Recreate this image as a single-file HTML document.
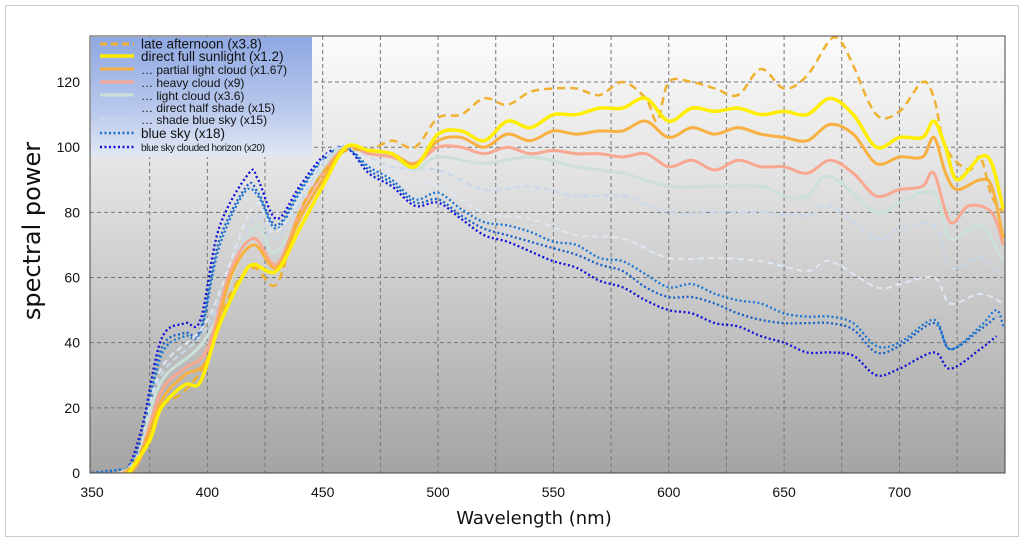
<!DOCTYPE html>
<html><head><meta charset="utf-8"><style>
html,body{margin:0;padding:0;background:#fff;}
svg{display:block;font-family:"Liberation Sans","DejaVu Sans",sans-serif;}
</style></head><body>
<svg id="s" width="1024" height="542" viewBox="0 0 1024 542" xmlns="http://www.w3.org/2000/svg">
<defs>
<linearGradient id="bg" x1="0" y1="0" x2="0" y2="1">
<stop offset="0" stop-color="#fbfbfb"/><stop offset="0.3" stop-color="#e4e4e4"/><stop offset="1" stop-color="#a4a4a4"/>
</linearGradient>
<linearGradient id="lg" x1="0" y1="0" x2="0" y2="1">
<stop offset="0" stop-color="#8fa8e2"/><stop offset="0.6" stop-color="#b8c8ec"/><stop offset="1" stop-color="#e2e8f4"/>
</linearGradient>
<clipPath id="cp"><rect x="90" y="36" width="915" height="437"/></clipPath>
</defs>
<rect x="5.5" y="5.5" width="1013" height="531" fill="#fff" stroke="#ccc"/>
<rect x="90" y="36" width="915" height="437" fill="url(#bg)"/>
<g id="grid" stroke="#777" stroke-width="1" stroke-dasharray="4,3" fill="none"></g>
<g id="series" clip-path="url(#cp)" fill="none" stroke-linejoin="round"></g>
<rect x="90" y="36" width="915" height="437" fill="none" stroke="#444"/>
<g id="ticks" font-size="14" fill="#111"></g>
<text x="534" y="524" font-size="18" text-anchor="middle" fill="#111" style="font-family:'DejaVu Sans',sans-serif">Wavelength (nm)</text>
<text transform="translate(40,231) rotate(-90)" font-size="24" text-anchor="middle" fill="#111" style="font-family:'DejaVu Sans',sans-serif">spectral power</text>
<rect x="91" y="37" width="221" height="120" fill="url(#lg)"/>
<g font-size="13" fill="#111">
<line x1="100" y1="44" x2="134" y2="44" stroke="#f0b030" stroke-width="3" stroke-dasharray="7,4"/><text x="141" y="48.5" font-size="13.5">late afternoon (x3.8)</text>
<line x1="100" y1="56" x2="134" y2="56" stroke="#ffee00" stroke-width="3.5"/><text x="141" y="61" font-size="13.5">direct full sunlight (x1.2)</text>
<line x1="100" y1="69" x2="134" y2="69" stroke="#f8b040" stroke-width="3"/><text x="141" y="74" font-size="12">… partial light cloud (x1.67)</text>
<line x1="100" y1="82" x2="134" y2="82" stroke="#f8a890" stroke-width="3"/><text x="141" y="87" font-size="12">… heavy cloud (x9)</text>
<line x1="100" y1="95" x2="134" y2="95" stroke="#cce0d8" stroke-width="3"/><text x="141" y="100" font-size="12">… light cloud (x3.6)</text>
<text x="141" y="112" font-size="12">…  direct half shade (x15)</text>
<line x1="100" y1="119" x2="134" y2="119" stroke="#c8d8ec" stroke-width="2" stroke-dasharray="5,3"/><text x="141" y="124" font-size="12">… shade blue sky (x15)</text>
<line x1="100" y1="133" x2="134" y2="133" stroke="#1870d0" stroke-width="2.5" stroke-dasharray="2,2.5"/><text x="141" y="138" font-size="13.5">blue sky (x18)</text>
<line x1="100" y1="147" x2="134" y2="147" stroke="#1010d8" stroke-width="2.5" stroke-dasharray="2,2.5"/><text x="141" y="151" font-size="10" letter-spacing="-0.4">blue sky clouded horizon (x20)</text>
</g>
</svg>
<script>
const NS="http://www.w3.org/2000/svg";
const X=n=>92+(n-350)*2.307, Y=v=>473-v*3.258;
const grid=document.getElementById('grid'), ticks=document.getElementById('ticks');
function el(p,t,a){const e=document.createElementNS(NS,t);for(const k in a)e.setAttribute(k,a[k]);p.appendChild(e);return e;}
for(let n=375;n<=740;n+=25){el(grid,'line',{x1:X(n),y1:36,x2:X(n),y2:473});}
for(let v=20;v<=120;v+=20){el(grid,'line',{x1:90,y1:Y(v),x2:1005,y2:Y(v)});}
for(let n=350;n<=700;n+=50){const t=el(ticks,'text',{x:X(n),y:497,'text-anchor':'middle'});t.textContent=n;}
for(let v=0;v<=120;v+=20){const t=el(ticks,'text',{x:80,y:Y(v)+5,'text-anchor':'end'});t.textContent=v;}
function P(s){const a=s.trim().split(/\s+/).map(p=>p.split(':').map(Number));return a.map(([n,v])=>[X(n),Y(v)]);}
function path(pts){let d='M'+pts[0][0]+','+pts[0][1];for(let i=0;i<pts.length-1;i++){const p0=pts[i-1]||pts[i],p1=pts[i],p2=pts[i+1],p3=pts[i+2]||p2;
d+=` C${p1[0]+(p2[0]-p0[0])/6},${p1[1]+(p2[1]-p0[1])/6} ${p2[0]-(p3[0]-p1[0])/6},${p2[1]-(p3[1]-p1[1])/6} ${p2[0]},${p2[1]}`;}return d;}
const S=[
["350:0 356:0.5 362:1 366:2 372:15 380:41 390:46 397:47 405:75 418:92 422:90 430:78 440:88 450:97 460:100 470:92 480:88 490:82 500:83 510:78 520:73 530:71 540:68 550:65 560:63 570:59 580:57 590:53 600:50 610:49 620:46 630:45 640:42 650:40 660:37 670:37 680:36 690:30 700:32 715:37 722:32 735:38 742:42","#1010d8",2.3,"2,2.5"],
["350:0 362:1 366:2 372:12 380:38 390:43 397:44 405:71 417:88 422:86 430:76 440:87 450:96 460:100 470:93 480:89 490:83 500:84 510:79 520:75 530:73 540:71 550:69 560:67 570:64 580:62 590:57 600:54 610:54 620:52 630:49 640:47 650:46 660:46 670:46 680:44 690:37 700:39 715:46 722:38 735:44 742:48","#1860c8",2.3,"2,2.5"],
["350:0 362:1 366:2 372:10 380:36 390:42 397:43 405:69 416:86 422:85 430:75 440:86 450:96 460:100 470:94 480:90 490:84 500:86 510:81 520:77 530:76 540:74 550:71 560:70 570:66 580:65 590:61 600:57 610:58 620:55 630:53 640:52 650:49 660:48 670:48 680:46 690:39 700:40 715:47 722:38 735:45 742:50 745:45","#1a78d4",2.3,"2,2.5"],
["362:0 370:6 380:32 400:47 420:82 430:74 450:96 460:100 480:92 500:88 520:80 540:78 560:73 580:72 600:66 620:66 640:65 660:62 670:65 690:57 700:58 715:60 722:52 735:55 745:52","#dde8f4",2,"6,4"],
["362:0 370:5 380:30 400:45 420:78 430:72 450:95 460:100 480:94 500:93 520:87 540:88 560:85 580:85 600:80 620:80 640:80 660:79 670:82 690:72 700:75 715:76 722:63 735:66 745:60","#c8d8ec",2,"6,4"],
["362:0 370:5 380:28 400:42 420:75 430:68 450:93 460:100 480:97 490:93 500:97 520:95 540:97 560:94 580:92 600:88 620:88 640:88 650:85 660:85 670:91 690:80 700:83 715:86 722:72 735:76 745:65","#cce0d8",3,""],
["363:0 370:4 380:25 390:32 400:38 410:62 420:72 430:64 440:80 450:92 460:100 470:98 480:97 490:95 500:100 510:100 520:98 530:100 540:98 550:99 560:98 570:98 580:97 590:98 600:94 610:96 620:93 630:96 640:94 650:94 660:92 670:96 680:92 690:85 700:87 710:88 715:92 722:77 730:82 740:80 745:70","#f8a890",3,""],
["364:0 370:3 380:22 390:30 400:35 410:60 420:70 430:63 440:78 450:90 460:100 470:99 480:98 490:95 500:102 510:103 520:100 530:104 540:102 550:105 560:104 570:105 580:105 590:108 600:103 610:106 620:104 630:106 640:104 650:103 660:102 670:107 680:104 690:95 700:97 710:97 715:103 720:92 725:87 735:90 740:88 745:72","#f8b040",3,""],
["364:0 370:5 380:20 390:25 400:35 410:55 420:63 430:58 440:80 450:92 460:99 470:99 480:102 490:100 500:109 510:110 520:115 530:113 540:117 550:118 560:118 570:116 580:120 590:115 595:108 600:120 610:120 620:118 630:116 640:124 650:118 660:122 670:133 675:132 680:125 690:110 700:111 710:120 715:115 720:100 730:93 735:97 740:85 745:80","#f0b030",2.5,"8,5"],
["366:0 375:10 380:20 390:27 397:28 405:45 415:60 420:64 430:62 440:75 450:88 460:100 470:99 480:98 490:94 500:104 510:105 520:102 530:108 540:106 550:110 560:110 570:112 580:112 590:115 600:108 610:112 620:111 630:112 640:110 650:111 660:110 670:115 680:110 690:100 700:103 710:103 715:108 720:100 725:90 735:97 740:95 745:81","#ffee00",3.5,""]
];
const g=document.getElementById('series');
for(const [d,c,w,da] of S){const a={d:path(P(d)),stroke:c,'stroke-width':w};if(da)a['stroke-dasharray']=da;el(g,'path',a);}
</script>
</body></html>
